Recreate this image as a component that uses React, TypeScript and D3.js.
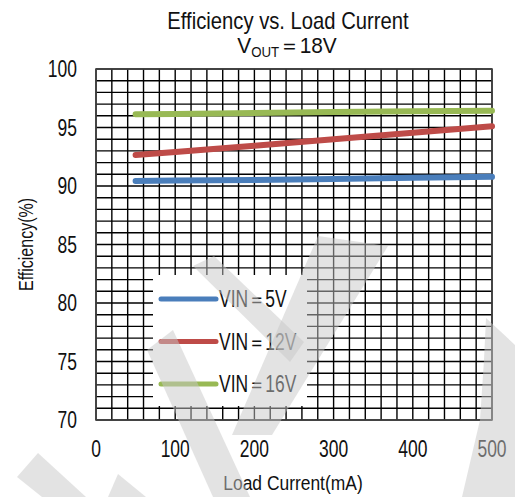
import React, { useEffect, useRef } from 'react';
import * as d3 from 'd3';

// Ток нагрузки, мА
const loadCurrent = [50, 100, 200, 300, 400, 500];
const vin5 = [90.43, 90.46, 90.52, 90.6, 90.7, 90.78];
const vin12 = [92.65, 92.9, 93.45, 94.0, 94.55, 95.1];
const vin16 = [96.13, 96.15, 96.24, 96.32, 96.39, 96.44];

const seriesNames = ['VIN＝5V', 'VIN＝12V', 'VIN＝16V'];
const seriesColors = ['#4a7ebb', '#be4b48', '#98b954'];

const xTicks = [0, 100, 200, 300, 400, 500];
const yTicks = [70, 75, 80, 85, 90, 95, 100];

const FONT = '"Liberation Sans", Arial, sans-serif';

// Водяной знак (полупрозрачные полосы поверх графика)
const watermark: [number, number][][] = [
  [[193, 266], [214, 256], [304, 342], [290, 362]],
  [[147, 350], [173, 330], [250, 497], [213, 497]],
  [[318, 236], [388, 246], [272, 435], [232, 435]],
  [[17, 477], [38, 453], [86, 497], [42, 497]],
  [[108, 497], [118, 474], [146, 497]],
  [[486, 318], [515, 345], [515, 497], [462, 497], [480, 420], [484, 360]],
];

const App: React.FC = () => {
  const svgRef = useRef<SVGSVGElement>(null);

  useEffect(() => {
    if (!svgRef.current) return;
    const svg = d3.select(svgRef.current);
    svg.selectAll('*').remove();

    const width = 515;
    const height = 497;
    const margin = { top: 69, right: 23, bottom: 77, left: 96 };
    const innerW = width - margin.left - margin.right;
    const innerH = height - margin.top - margin.bottom;

    svg.attr('width', width).attr('height', height).style('font-family', FONT);

    svg.append('rect').attr('width', width).attr('height', height).attr('fill', '#fff');

    const g = svg.append('g').attr('transform', `translate(${margin.left},${margin.top})`);

    const x = d3.scaleLinear().domain([0, 500]).range([0, innerW]);
    const y = d3.scaleLinear().domain([70, 100]).range([innerH, 0]);

    // Сетка: каждые 20 мА и каждый 1%
    const xGrid = d3.range(0, 501, 20);
    const yGrid = d3.range(70, 101, 1);

    g.append('g')
      .selectAll('line')
      .data(xGrid)
      .enter()
      .append('line')
      .attr('x1', (d) => x(d))
      .attr('x2', (d) => x(d))
      .attr('y1', 0)
      .attr('y2', innerH)
      .attr('stroke', '#000')
      .attr('stroke-width', 1.4);

    g.append('g')
      .selectAll('line')
      .data(yGrid)
      .enter()
      .append('line')
      .attr('x1', 0)
      .attr('x2', innerW)
      .attr('y1', (d) => y(d))
      .attr('y2', (d) => y(d))
      .attr('stroke', '#000')
      .attr('stroke-width', 1.4);

    g.append('rect')
      .attr('width', innerW)
      .attr('height', innerH)
      .attr('fill', 'none')
      .attr('stroke', '#444')
      .attr('stroke-width', 1.6);

    // Узкий шрифт через горизонтальное сжатие
    const narrowText = (
      parent: d3.Selection<any, unknown, null, undefined>,
      tx: number,
      ty: number,
      size: number,
      sx: number,
      anchor: string,
      label: string,
      rotate = 0
    ) =>
      parent
        .append('text')
        .attr('transform', `translate(${tx},${ty}) rotate(${rotate}) scale(${sx},1)`)
        .attr('text-anchor', anchor)
        .attr('font-size', size)
        .attr('fill', '#111')
        .text(label);

    yTicks.forEach((d) => {
      narrowText(g, -19, y(d) + 8.3, 23, 0.76, 'end', String(d));
    });
    xTicks.forEach((d) => {
      narrowText(g, x(d), innerH + 37, 23, 0.76, 'middle', String(d));
    });

    // Линии
    const series = [vin5, vin12, vin16];
    const line = d3
      .line<number>()
      .x((_, i) => x(loadCurrent[i]))
      .y((d) => y(d));

    series.forEach((s, i) => {
      g.append('path')
        .datum(s)
        .attr('fill', 'none')
        .attr('stroke', seriesColors[i])
        .attr('stroke-width', 6)
        .attr('stroke-linecap', 'round')
        .attr('d', line);
    });

    // Легенда
    const legend = svg.append('g');
    legend
      .append('rect')
      .attr('x', 153)
      .attr('y', 275)
      .attr('width', 154)
      .attr('height', 131)
      .attr('fill', '#fff');

    seriesNames.forEach((name, i) => {
      const ly = 299 + i * 42.5;
      legend
        .append('line')
        .attr('x1', 161)
        .attr('x2', 216)
        .attr('y1', ly)
        .attr('y2', ly)
        .attr('stroke', seriesColors[i])
        .attr('stroke-width', 5)
        .attr('stroke-linecap', 'round');
      narrowText(legend, 219, ly + 8.3, 23, 0.76, 'start', name);
    });

    // Заголовок
    narrowText(svg, 288, 29, 23, 0.88, 'middle', 'Efficiency vs. Load Current');

    const sub = svg
      .append('text')
      .attr('transform', 'translate(287,53) scale(0.95,1)')
      .attr('text-anchor', 'middle')
      .attr('font-size', 22)
      .attr('fill', '#111');
    sub.append('tspan').text('V');
    sub.append('tspan').attr('font-size', 14).attr('dy', 4).text('OUT');
    sub.append('tspan').attr('dy', -4).text('＝18V');

    narrowText(svg, 33, margin.top + innerH / 2, 20, 0.8, 'middle', 'Efficiency(%)', -90);
    narrowText(svg, 293, 490, 21, 0.83, 'middle', 'Load Current(mA)');

    // Водяной знак
    svg
      .append('g')
      .selectAll('polygon')
      .data(watermark)
      .enter()
      .append('polygon')
      .attr('points', (d) => d.map((p) => p.join(',')).join(' '))
      .attr('fill', '#c8c8c8')
      .attr('fill-opacity', 0.5);
  }, []);

  return (
    <div style={{ position: 'fixed', left: 0, top: 0, width: 515, height: 497, overflow: 'hidden' }}>
      <svg ref={svgRef} style={{ display: 'block' }} />
    </div>
  );
};

export default App;
